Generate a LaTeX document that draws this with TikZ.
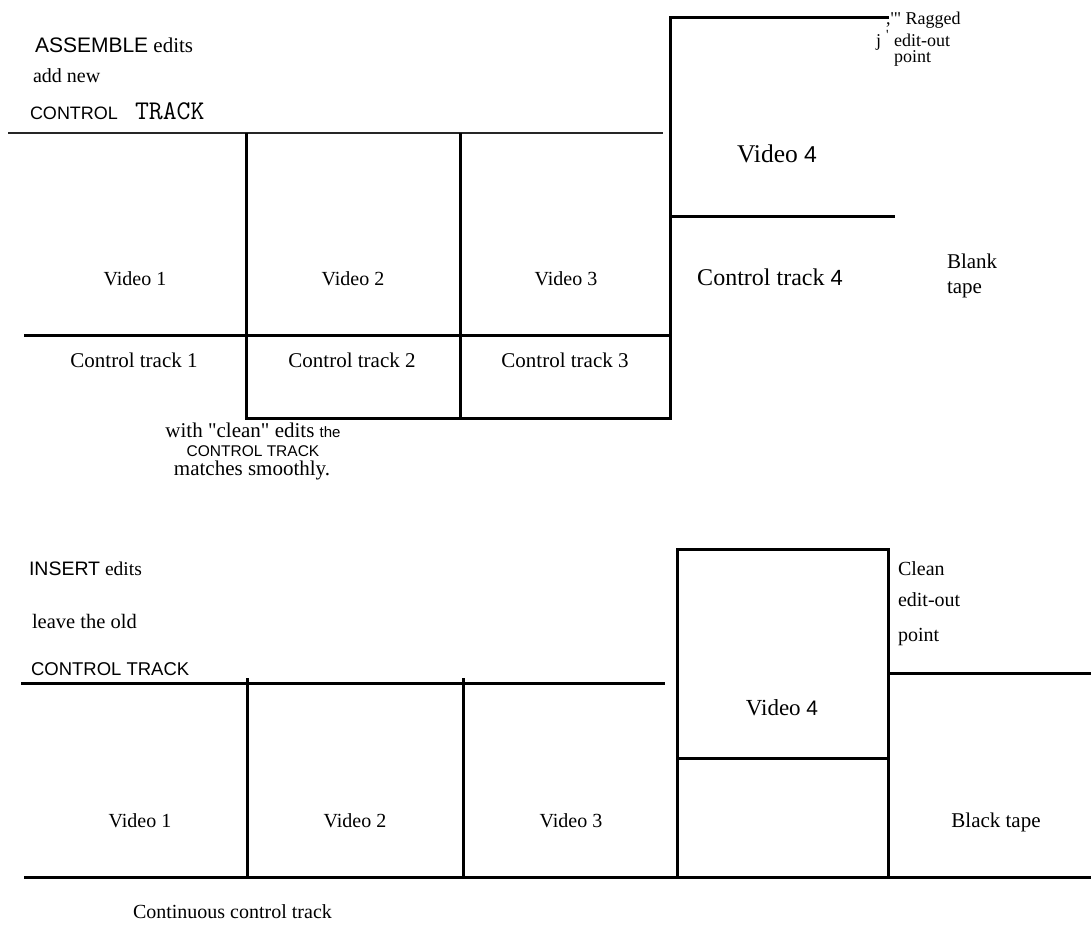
\documentclass[tikz,border=0pt]{standalone}
\usepackage{fontspec}
\setmainfont{Liberation Serif}[Ligatures=TeXOff]
\newfontfamily\arialf{Liberation Sans}[Ligatures=TeXOff]
\newcommand\myfs[1]{\fontsize{#1}{#1}\selectfont}
\begin{document}
\begin{tikzpicture}[x=1pt,y=-1pt,
  ln/.style={line width=3pt,line cap=rect},
  thin ln/.style={line width=2.4pt,black!85},
  lbl/.style={inner sep=0pt,outer sep=0pt,font=\myfs{20}},
  lblw/.style={lbl,anchor=base west},
  lblc/.style={lbl,anchor=base}]
\useasboundingbox (0,0) rectangle (1091,933);
\fill[white] (0,0) rectangle (1091,933);
% ---------- ASSEMBLE ----------
\draw[thin ln] (8,133) -- (663,133);
\draw[ln] (246,135) -- (246,418) -- (670,418) -- (670,18) -- (887,18);
\draw[ln] (460,135) -- (460,418);
\draw[ln] (25,335) -- (670,335);
\draw[ln] (670,217) -- (893,217);
\node[lblw,font=\myfs{21}] (asm) at (35,53) {{\arialf ASSEMBLE} edits};
\node[lblw] (addnew) at (33,83) {add new};
\node[lblw] (ctA) at (30,120) {{\arialf\myfs{18}CONTROL}\hspace{17pt}{\ttfamily\myfs{27}TRACK}};
\node[lblc] (v1) at (135,285) {Video 1};
\node[lblc] (v2) at (353,285) {Video 2};
\node[lblc] (v3) at (566,285) {Video 3};
\node[lblc,font=\myfs{21}] (c1) at (134,367) {Control track 1};
\node[lblc,font=\myfs{21}] (c2) at (352,367) {Control track 2};
\node[lblc,font=\myfs{21}] (c3) at (565,367) {Control track 3};
\node[lblc,font=\myfs{25.5}] (v4a) at (777,163) {Video {\arialf\myfs{23}4}};
\node[lblc,font=\myfs{24}] (c4) at (770,285) {Control track {\arialf\myfs{22}4}};
\node[lblw,font=\myfs{21}] (blank) at (947,268) {Blank};
\node[lblw,font=\myfs{21}] (tape) at (947,293) {tape};
\node[lblw,font=\myfs{18}] (rg1) at (886,25) {,'" Ragged};
\node[lblw,font=\myfs{18}] (rgj) at (876,47) {j};
\node[lblw,font=\myfs{14}] (rgq) at (886,40) {'};
\node[lblw,font=\myfs{18}] (rg2) at (894,47) {edit-out};
\node[lblw,font=\myfs{18}] (rg3) at (894,63) {point};
\node[lblc,font=\myfs{21}] (cl1) at (253,437) {with "clean" edits {\arialf\myfs{15}the}};
\node[lblc,font=\arialf\myfs{15.5}] (cl2) at (253,456) {CONTROL TRACK};
\node[lblc,font=\myfs{21}] (cl3) at (252,475) {matches smoothly.};
% ---------- INSERT ----------
\draw[ln] (22,683) -- (663,683);
\draw[ln] (247,679) -- (247,877);
\draw[ln] (463,679) -- (463,877);
\draw[ln] (25,877) -- (1091,877);
\draw[ln] (677,877) -- (677,549) -- (888,549) -- (888,877);
\draw[ln] (677,758) -- (888,758);
\draw[ln] (888,673) -- (1091,673);
\node[lblw,font=\myfs{19.5}] (ins) at (29,575) {{\arialf INSERT} edits};
\node[lblw,font=\myfs{20.5}] (leave) at (32,628) {leave the old};
\node[lblw,font=\arialf\myfs{18.5}] (ctB) at (31,675) {CONTROL TRACK};
\node[lblc] (bv1) at (140,827) {Video 1};
\node[lblc] (bv2) at (355,827) {Video 2};
\node[lblc] (bv3) at (571,827) {Video 3};
\node[lblc,font=\myfs{23}] (bv4) at (782,715) {Video {\arialf\myfs{21}4}};
\node[lblc,font=\myfs{21}] (black) at (996,827) {Black tape};
\node[lblw] (clean1) at (898,575) {Clean};
\node[lblw] (clean2) at (898,606) {edit-out};
\node[lblw] (clean3) at (898,641) {point};
\node[lblw] (cont) at (133,918) {Continuous control track};
\end{tikzpicture}
\end{document}
